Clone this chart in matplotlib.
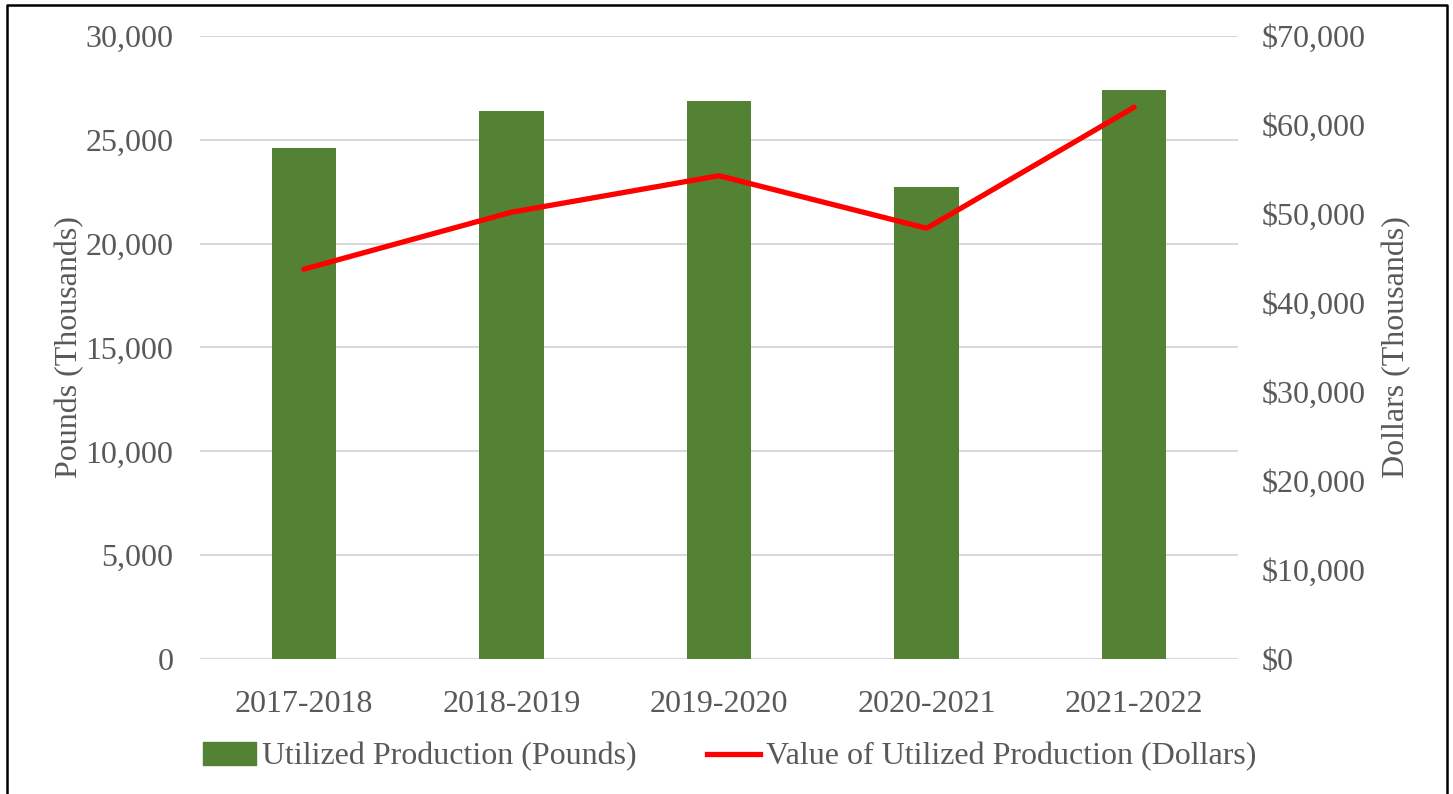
import matplotlib
matplotlib.use("Agg")
import matplotlib.pyplot as plt
from matplotlib.lines import Line2D
from matplotlib.ticker import FuncFormatter
import numpy as np

# values
seasons = ["2017-2018", "2018-2019", "2019-2020", "2020-2021", "2021-2022"]
pounds = [24600, 26390, 26870, 22730, 27400]       # thousands of pounds
dollars = [43800, 50200, 54300, 48400, 62000]      # thousands of dollars

plt.rcParams['font.family'] = ['Liberation Serif', 'DejaVu Serif']
grey = '#595959'
green = '#548235'
red = '#ff0000'

fig = plt.figure(figsize=(14.53, 7.94), dpi=100)
ax = fig.add_axes([200/1453, 1 - 659/794, (1238 - 200)/1453, (659 - 36)/794])
ax2 = ax.twinx()

x = np.arange(len(seasons))
ax.bar(x, pounds, width=0.31, color=green, zorder=2, label='Utilized Production (Pounds)')
ax2.plot(x, dollars, color=red, lw=3.8, solid_capstyle='round', solid_joinstyle='round',
         label='Value of Utilized Production (Dollars)')

ax.set_xlim(-0.5, len(seasons) - 0.5)
ax.set_ylim(0, 30000)
ax.set_yticks(range(0, 30001, 5000))
ax2.set_ylim(0, 70000)
ax2.set_yticks(range(0, 70001, 10000))

ax.yaxis.set_major_formatter(FuncFormatter(lambda v, p: f'{int(v):,}'))
ax2.yaxis.set_major_formatter(FuncFormatter(lambda v, p: f'${int(v):,}'))
ax.set_xticks(x)
ax.set_xticklabels(seasons)

ax.grid(axis='y', color='#d9d9d9', lw=1.5, zorder=0)
ax.set_axisbelow(True)
for a in (ax, ax2):
    for s in a.spines.values():
        s.set_visible(False)
    a.tick_params(length=0, labelsize=23, colors=grey)
ax.tick_params(axis='y', pad=19)
ax.tick_params(axis='x', pad=22)
ax2.tick_params(axis='y', pad=17)

ax.set_ylabel('Pounds (Thousands)', fontsize=23, color=grey, labelpad=1)
ax2.set_ylabel('Dollars (Thousands)', fontsize=23, color=grey, labelpad=12)

handles = [plt.Rectangle((0, 0), 1, 1, color=green),
           Line2D([], [], color=red, lw=3.8)]
labels = ['Utilized Production (Pounds)', 'Value of Utilized Production (Dollars)']
fig.legend(handles, labels, loc='center', bbox_to_anchor=(730/1453, 1 - 757/794), ncol=2,
           frameon=False, fontsize=23, labelcolor=grey, handlelength=1.65,
           handletextpad=0.2, columnspacing=2.2)

# black frame round the chart (bottom edge is cut off in the reference)
fx = [7/1453, 7/1453, 1447/1453, 1447/1453]
fy = [0, 1 - 5/794, 1 - 5/794, 0]
fig.add_artist(Line2D(fx, fy, color='black', lw=1.8, transform=fig.transFigure))

fig.savefig('out.png', dpi=100)
